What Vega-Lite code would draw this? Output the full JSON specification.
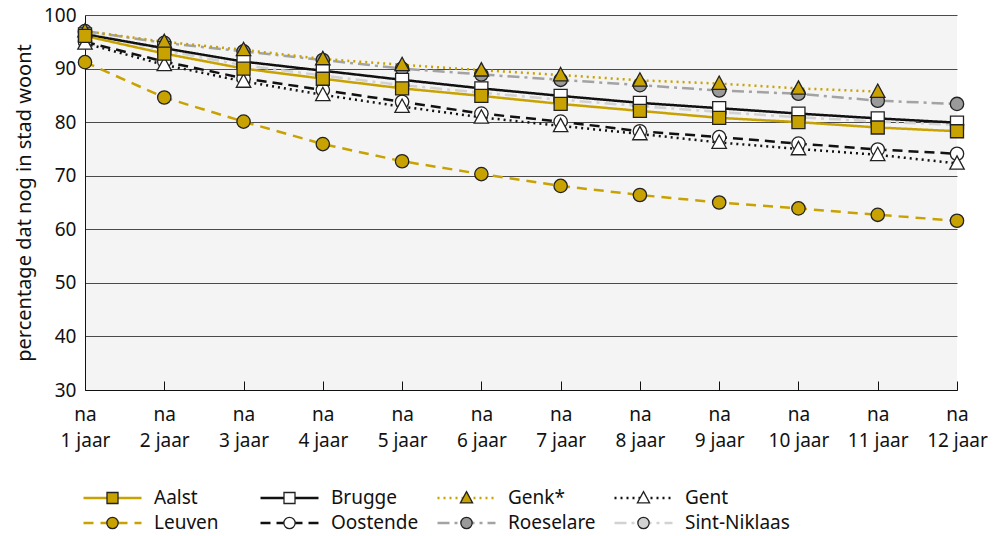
{
  "$schema": "https://vega.github.io/schema/vega-lite/v6.json",
  "width": 872,
  "height": 375,
  "autosize": {"type": "none"},
  "padding": {"left": 85, "top": 15, "right": 44, "bottom": 146},
  "background": "white",
  "config": {
    "font": "Noto Sans",
    "view": {"fill": "#f4f4f4", "stroke": null}
  },
  "data": {
    "values": [
      {"stad": "Sint-Niklaas", "jaar": 1, "pct": 96.8}, {"stad": "Sint-Niklaas", "jaar": 2, "pct": 93.4}, {"stad": "Sint-Niklaas", "jaar": 3, "pct": 90.6}, {"stad": "Sint-Niklaas", "jaar": 4, "pct": 88.7}, {"stad": "Sint-Niklaas", "jaar": 5, "pct": 86.9}, {"stad": "Sint-Niklaas", "jaar": 6, "pct": 85.5}, {"stad": "Sint-Niklaas", "jaar": 7, "pct": 84.2}, {"stad": "Sint-Niklaas", "jaar": 8, "pct": 83.0}, {"stad": "Sint-Niklaas", "jaar": 9, "pct": 81.9}, {"stad": "Sint-Niklaas", "jaar": 10, "pct": 80.9}, {"stad": "Sint-Niklaas", "jaar": 11, "pct": 80.1}, {"stad": "Sint-Niklaas", "jaar": 12, "pct": 79.5},
      {"stad": "Roeselare", "jaar": 1, "pct": 97.0}, {"stad": "Roeselare", "jaar": 2, "pct": 94.8}, {"stad": "Roeselare", "jaar": 3, "pct": 93.2}, {"stad": "Roeselare", "jaar": 4, "pct": 91.6}, {"stad": "Roeselare", "jaar": 5, "pct": 90.0}, {"stad": "Roeselare", "jaar": 6, "pct": 88.9}, {"stad": "Roeselare", "jaar": 7, "pct": 87.9}, {"stad": "Roeselare", "jaar": 8, "pct": 86.9}, {"stad": "Roeselare", "jaar": 9, "pct": 85.9}, {"stad": "Roeselare", "jaar": 10, "pct": 85.3}, {"stad": "Roeselare", "jaar": 11, "pct": 84.0}, {"stad": "Roeselare", "jaar": 12, "pct": 83.4},
      {"stad": "Brugge", "jaar": 1, "pct": 96.4}, {"stad": "Brugge", "jaar": 2, "pct": 93.8}, {"stad": "Brugge", "jaar": 3, "pct": 91.3}, {"stad": "Brugge", "jaar": 4, "pct": 89.6}, {"stad": "Brugge", "jaar": 5, "pct": 87.9}, {"stad": "Brugge", "jaar": 6, "pct": 86.3}, {"stad": "Brugge", "jaar": 7, "pct": 84.9}, {"stad": "Brugge", "jaar": 8, "pct": 83.6}, {"stad": "Brugge", "jaar": 9, "pct": 82.6}, {"stad": "Brugge", "jaar": 10, "pct": 81.6}, {"stad": "Brugge", "jaar": 11, "pct": 80.7}, {"stad": "Brugge", "jaar": 12, "pct": 79.9},
      {"stad": "Oostende", "jaar": 1, "pct": 95.0}, {"stad": "Oostende", "jaar": 2, "pct": 91.3}, {"stad": "Oostende", "jaar": 3, "pct": 88.2}, {"stad": "Oostende", "jaar": 4, "pct": 86.0}, {"stad": "Oostende", "jaar": 5, "pct": 83.8}, {"stad": "Oostende", "jaar": 6, "pct": 81.6}, {"stad": "Oostende", "jaar": 7, "pct": 80.1}, {"stad": "Oostende", "jaar": 8, "pct": 78.3}, {"stad": "Oostende", "jaar": 9, "pct": 77.2}, {"stad": "Oostende", "jaar": 10, "pct": 76.0}, {"stad": "Oostende", "jaar": 11, "pct": 74.9}, {"stad": "Oostende", "jaar": 12, "pct": 74.1},
      {"stad": "Leuven", "jaar": 1, "pct": 91.2}, {"stad": "Leuven", "jaar": 2, "pct": 84.6}, {"stad": "Leuven", "jaar": 3, "pct": 80.1}, {"stad": "Leuven", "jaar": 4, "pct": 75.9}, {"stad": "Leuven", "jaar": 5, "pct": 72.7}, {"stad": "Leuven", "jaar": 6, "pct": 70.3}, {"stad": "Leuven", "jaar": 7, "pct": 68.1}, {"stad": "Leuven", "jaar": 8, "pct": 66.4}, {"stad": "Leuven", "jaar": 9, "pct": 65.0}, {"stad": "Leuven", "jaar": 10, "pct": 63.9}, {"stad": "Leuven", "jaar": 11, "pct": 62.7}, {"stad": "Leuven", "jaar": 12, "pct": 61.6},
      {"stad": "Genk*", "jaar": 1, "pct": 97.0}, {"stad": "Genk*", "jaar": 2, "pct": 95.0}, {"stad": "Genk*", "jaar": 3, "pct": 93.5}, {"stad": "Genk*", "jaar": 4, "pct": 91.8}, {"stad": "Genk*", "jaar": 5, "pct": 90.7}, {"stad": "Genk*", "jaar": 6, "pct": 89.7}, {"stad": "Genk*", "jaar": 7, "pct": 88.8}, {"stad": "Genk*", "jaar": 8, "pct": 87.8}, {"stad": "Genk*", "jaar": 9, "pct": 87.2}, {"stad": "Genk*", "jaar": 10, "pct": 86.3}, {"stad": "Genk*", "jaar": 11, "pct": 85.7},
      {"stad": "Gent", "jaar": 1, "pct": 94.7}, {"stad": "Gent", "jaar": 2, "pct": 90.7}, {"stad": "Gent", "jaar": 3, "pct": 87.6}, {"stad": "Gent", "jaar": 4, "pct": 85.1}, {"stad": "Gent", "jaar": 5, "pct": 82.9}, {"stad": "Gent", "jaar": 6, "pct": 80.9}, {"stad": "Gent", "jaar": 7, "pct": 79.3}, {"stad": "Gent", "jaar": 8, "pct": 77.8}, {"stad": "Gent", "jaar": 9, "pct": 76.2}, {"stad": "Gent", "jaar": 10, "pct": 75.0}, {"stad": "Gent", "jaar": 11, "pct": 73.9}, {"stad": "Gent", "jaar": 12, "pct": 72.3},
      {"stad": "Aalst", "jaar": 1, "pct": 96.1}, {"stad": "Aalst", "jaar": 2, "pct": 92.8}, {"stad": "Aalst", "jaar": 3, "pct": 90.0}, {"stad": "Aalst", "jaar": 4, "pct": 88.1}, {"stad": "Aalst", "jaar": 5, "pct": 86.3}, {"stad": "Aalst", "jaar": 6, "pct": 84.9}, {"stad": "Aalst", "jaar": 7, "pct": 83.4}, {"stad": "Aalst", "jaar": 8, "pct": 82.1}, {"stad": "Aalst", "jaar": 9, "pct": 80.8}, {"stad": "Aalst", "jaar": 10, "pct": 80.0}, {"stad": "Aalst", "jaar": 11, "pct": 79.0}, {"stad": "Aalst", "jaar": 12, "pct": 78.3}
    ]
  },
  "encoding": {
    "x": {
      "field": "jaar", "type": "ordinal",
      "scale": {"type": "point", "padding": 0},
      "axis": {
        "title": null, "labelAngle": 0, "grid": false,
        "labelExpr": "['na', datum.label + ' jaar']",
        "labelLineHeight": 26, "labelFontSize": 19, "labelColor": "#111",
        "labelBaseline": "top",
        "domainColor": "#111", "tickColor": "#111", "tickSize": -9,
        "labelPadding": 24
      }
    },
    "y": {
      "field": "pct", "type": "quantitative",
      "scale": {"domain": [30, 100], "nice": false, "zero": false},
      "axis": {
        "values": [30, 40, 50, 60, 70, 80, 90, 100],
        "grid": true, "gridColor": "#4a4a4a", "gridWidth": 1,
        "ticks": false, "domainColor": "#111",
        "labelPadding": 9, "labelFontSize": 19, "labelColor": "#111",
        "title": "percentage dat nog in stad woont",
        "titleFontSize": 20, "titleFontWeight": "normal", "titleColor": "#111",
        "titlePadding": 9
      }
    }
  },
  "layer": [
    {
      "mark": {"type": "line", "strokeWidth": 2.5},
      "encoding": {
        "color": {
          "field": "stad", "type": "nominal",
          "scale": {
            "domain": ["Aalst", "Brugge", "Genk*", "Gent", "Leuven", "Oostende", "Roeselare", "Sint-Niklaas"],
            "range": ["#c8a200", "#111111", "#c8a200", "#111111", "#c8a200", "#111111", "#a3a3a3", "#d2d2d2"]
          },
          "legend": {
            "orient": "none", "direction": "horizontal", "legendX": -3, "legendY": 473, "columns": 4, "gridAlign": "all",
            "columnPadding": 0, "rowPadding": 5, "symbolType": "stroke", "symbolSize": 3364,
            "symbolStrokeWidth": 2.5, "clipHeight": 20, "labelFontSize": 19, "labelColor": "#111",
            "labelOffset": 11, "title": null, "padding": 0
          }
        },
        "strokeDash": {
          "field": "stad", "type": "nominal",
          "scale": {
            "domain": ["Aalst", "Brugge", "Genk*", "Gent", "Leuven", "Oostende", "Roeselare", "Sint-Niklaas"],
            "range": [[1, 0], [1, 0], [2, 4], [2, 4], [10, 7], [10, 6], [12, 5, 3, 5], [12, 5, 3, 5]]
          },
          "legend": {
            "orient": "none", "direction": "horizontal", "legendX": -3, "legendY": 473, "columns": 4, "gridAlign": "all",
            "columnPadding": 0, "rowPadding": 5, "symbolType": "stroke", "symbolSize": 3364,
            "symbolStrokeWidth": 2.5, "clipHeight": 20, "labelFontSize": 19, "labelColor": "#111",
            "labelOffset": 11, "title": null, "padding": 0
          }
        }
      }
    },
    {
      "mark": {"type": "point", "filled": true, "stroke": "#222", "strokeWidth": 1.3, "opacity": 1, "size": 4940},
      "encoding": {
        "fill": {
          "field": "stad", "type": "nominal",
          "scale": {"range": ["#c8a200", "#ffffff", "#c8a200", "#ffffff", "#c8a200", "#ffffff", "#9a9a9a", "#d2d2d2"]},
          "legend": {
            "orient": "none", "direction": "horizontal", "legendX": -3, "legendY": 473, "columns": 4, "gridAlign": "all",
            "columnPadding": 0, "rowPadding": 5, "symbolSize": 3540,
            "symbolStrokeWidth": 1.3, "symbolStrokeColor": "#222", "symbolOpacity": 1, "clipHeight": 20,
            "labelFontSize": 19, "labelColor": "transparent",
            "labelOffset": 11, "title": null, "padding": 0,
            "encode": {"symbols": {"update": {"stroke": {"value": "#222"}, "strokeWidth": {"value": 1.3}, "opacity": {"value": 1}}}}
          }
        },
        "shape": {
          "field": "stad", "type": "nominal",
          "scale": {"range": [
            "M-1,0M1,0M-0.185,-0.185H0.185V0.185H-0.185Z",
            "M-1,0M1,0M-0.185,-0.185H0.185V0.185H-0.185Z",
            "M-1,0M1,0M0,-0.215L0.205,0.165L-0.205,0.165Z",
            "M-1,0M1,0M0,-0.215L0.205,0.165L-0.205,0.165Z",
            "M-1,0M1,0M0.19,0A0.19,0.19,0,1,1,-0.19,0A0.19,0.19,0,1,1,0.19,0Z",
            "M-1,0M1,0M0.19,0A0.19,0.19,0,1,1,-0.19,0A0.19,0.19,0,1,1,0.19,0Z",
            "M-1,0M1,0M0.19,0A0.19,0.19,0,1,1,-0.19,0A0.19,0.19,0,1,1,0.19,0Z",
            "M-1,0M1,0M0.19,0A0.19,0.19,0,1,1,-0.19,0A0.19,0.19,0,1,1,0.19,0Z"
          ]},
          "legend": {
            "orient": "none", "direction": "horizontal", "legendX": -3, "legendY": 473, "columns": 4, "gridAlign": "all",
            "columnPadding": 0, "rowPadding": 5, "symbolSize": 3540,
            "symbolStrokeWidth": 1.3, "symbolStrokeColor": "#222", "symbolOpacity": 1, "clipHeight": 20,
            "labelFontSize": 19, "labelColor": "transparent",
            "labelOffset": 11, "title": null, "padding": 0,
            "encode": {"symbols": {"update": {"stroke": {"value": "#222"}, "strokeWidth": {"value": 1.3}, "opacity": {"value": 1}}}}
          }
        }
      }
    }
  ]
}
